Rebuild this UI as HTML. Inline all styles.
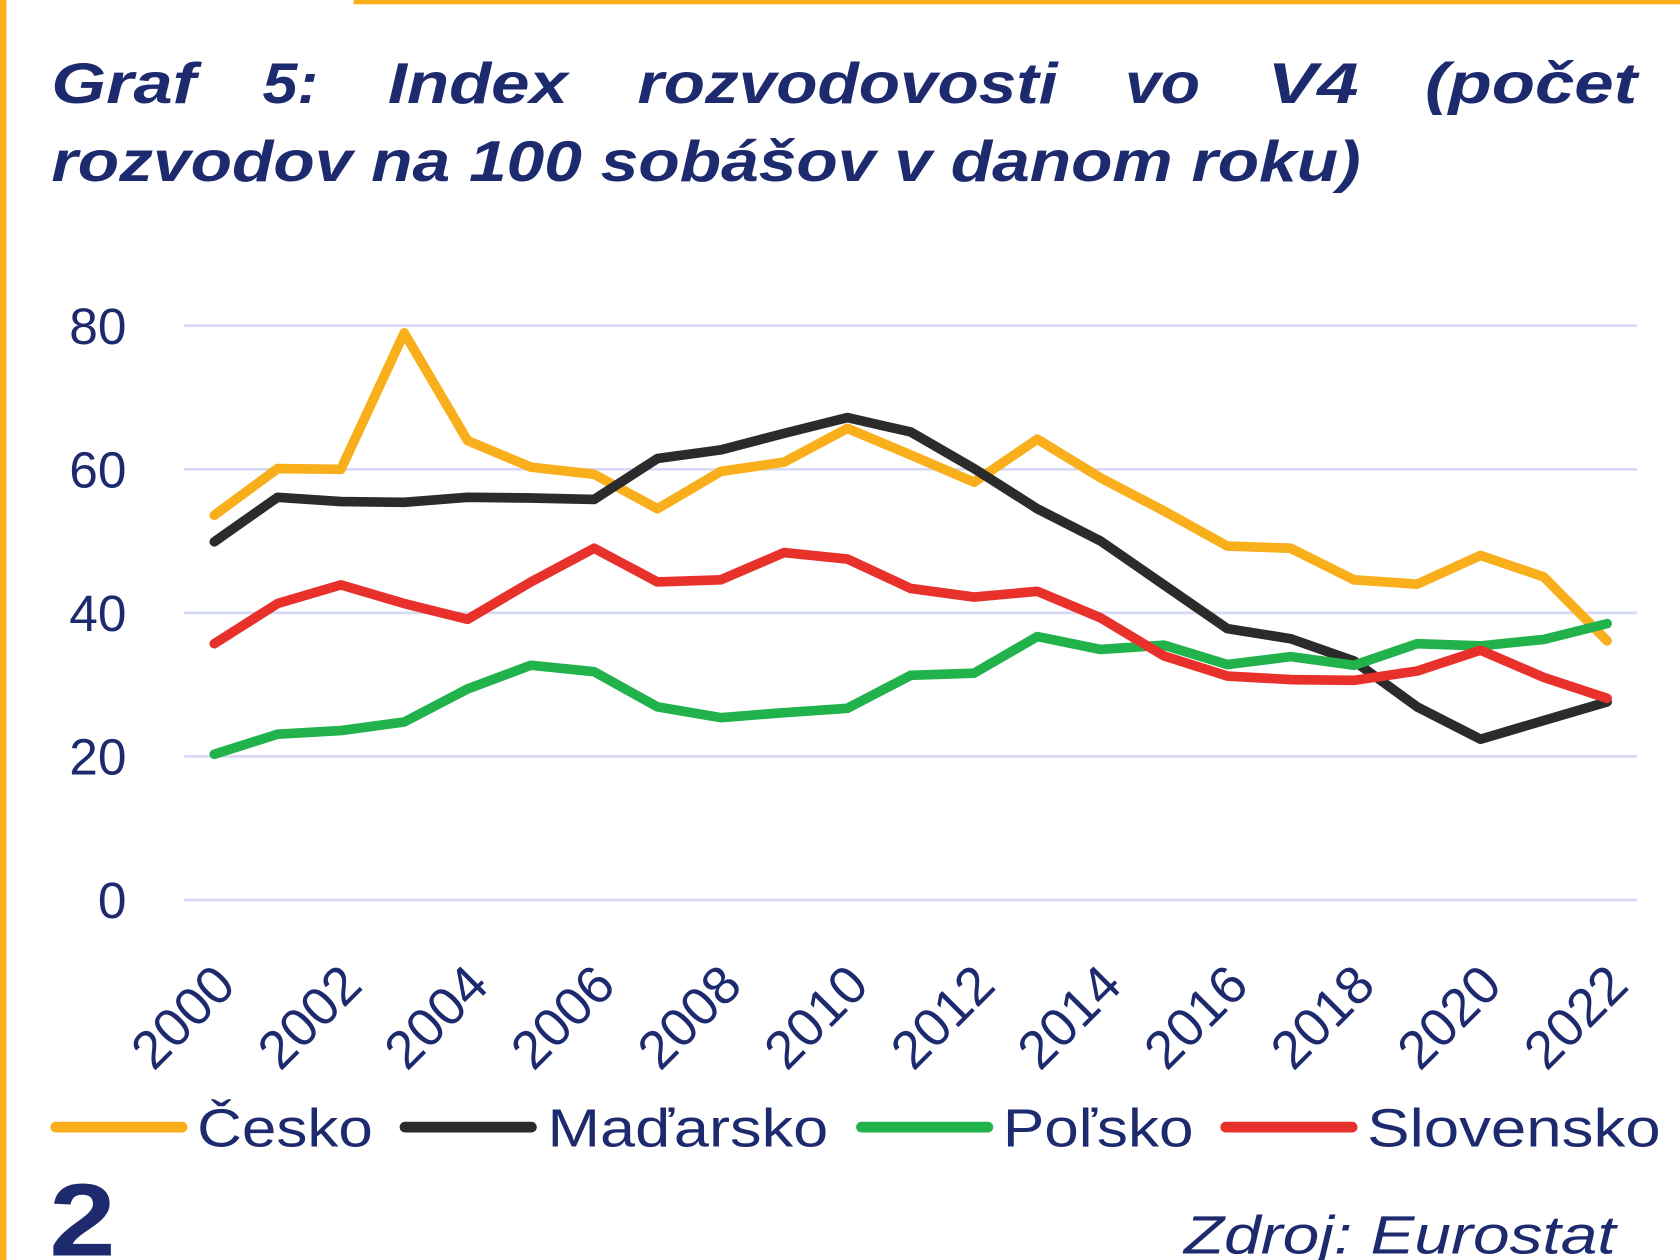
<!DOCTYPE html>
<html><head><meta charset="utf-8"><style>
html,body{margin:0;padding:0;background:#fff;}
svg{display:block;font-family:"Liberation Sans",sans-serif;}
</style></head><body>
<svg id="chart" width="1680" height="1260" viewBox="0 0 1568 1176" xmlns="http://www.w3.org/2000/svg">
<rect x="0" y="0" width="6" height="1176" fill="#f9ae1b"/>
<rect x="330" y="0" width="1238" height="4" fill="#f9ae1b"/>
<g fill="#1e2a6e" font-weight="bold" font-style="italic" font-size="54">
<text y="96"><tspan x="48" textLength="135" lengthAdjust="spacingAndGlyphs">Graf</tspan><tspan x="245" textLength="52" lengthAdjust="spacingAndGlyphs">5:</tspan><tspan x="362" textLength="168" lengthAdjust="spacingAndGlyphs">Index</tspan><tspan x="595" textLength="392" lengthAdjust="spacingAndGlyphs">rozvodovosti</tspan><tspan x="1050" textLength="70" lengthAdjust="spacingAndGlyphs">vo</tspan><tspan x="1183" textLength="85" lengthAdjust="spacingAndGlyphs">V4</tspan><tspan x="1330" textLength="198" lengthAdjust="spacingAndGlyphs">(počet</tspan></text>
<text x="48" y="169" textLength="1222" lengthAdjust="spacingAndGlyphs">rozvodov na 100 sobášov v danom roku)</text>
</g>
<g id="grid"></g>
<g id="yticks" fill="#1e2a6e" font-size="48" text-anchor="end"></g>
<g id="xticks" fill="#1e2a6e" font-size="50" text-anchor="end"></g>
<g id="lines" fill="none" stroke-width="9" stroke-linejoin="round" stroke-linecap="round"></g>
<g font-size="50" fill="#1e2a6e">
<line x1="52" y1="1052" x2="170" y2="1052" stroke="#f9ae1b" stroke-width="10" stroke-linecap="round"/>
<text x="184" y="1070" textLength="164" lengthAdjust="spacingAndGlyphs">Česko</text>
<line x1="378" y1="1052" x2="496" y2="1052" stroke="#2b2b2b" stroke-width="10" stroke-linecap="round"/>
<text x="511" y="1070" textLength="262" lengthAdjust="spacingAndGlyphs">Maďarsko</text>
<line x1="804" y1="1052" x2="922" y2="1052" stroke="#22b24c" stroke-width="10" stroke-linecap="round"/>
<text x="936" y="1070" textLength="178" lengthAdjust="spacingAndGlyphs">Poľsko</text>
<line x1="1144" y1="1052" x2="1262" y2="1052" stroke="#e8312b" stroke-width="10" stroke-linecap="round"/>
<text x="1276" y="1070" textLength="274" lengthAdjust="spacingAndGlyphs">Slovensko</text>
</g>
<text x="46" y="1172" font-size="96" font-weight="bold" fill="#1e2a6e" textLength="62" lengthAdjust="spacingAndGlyphs">2</text>
<text x="1105" y="1170" font-size="50" font-style="italic" fill="#1e2a6e" textLength="403" lengthAdjust="spacingAndGlyphs">Zdroj: Eurostat</text>
</svg>
<script>
const years = [2000,2001,2002,2003,2004,2005,2006,2007,2008,2009,2010,2011,2012,2013,2014,2015,2016,2017,2018,2019,2020,2021,2022];
const yTicks = [0,20,40,60,80];
const xTickLabels = [2000,2002,2004,2006,2008,2010,2012,2014,2016,2018,2020,2022];
const cesko = [53.6,60.1,60,79,64,60.3,59.3,54.5,59.7,61,65.7,62,58.2,64.2,58.8,54.2,49.3,49,44.6,44,48,45,36.1];
const madarsko = [49.9,56.1,55.5,55.4,56.1,56,55.8,61.5,62.7,65,67.2,65.2,60.1,54.5,50,43.9,37.8,36.4,33.3,26.9,22.4,25,27.6];
const polsko = [20.3,23.1,23.6,24.8,29.4,32.7,31.8,26.9,25.4,26.1,26.7,31.3,31.6,36.7,34.9,35.5,32.8,33.9,32.7,35.7,35.4,36.3,38.5];
const slovensko = [35.7,41.3,43.9,41.3,39.1,44.3,49,44.3,44.6,48.4,47.5,43.4,42.2,43,39.3,34,31.2,30.7,30.6,31.9,34.8,31,28.1];

const NS = "http://www.w3.org/2000/svg";
const x = yr => 200 + (yr - 2000) * (1300 / 22);
const y = v => 840 - v * 6.7;

const grid = document.getElementById('grid');
const yt = document.getElementById('yticks');
yTicks.forEach(v => {
  const l = document.createElementNS(NS,'line');
  l.setAttribute('x1',172); l.setAttribute('x2',1528);
  l.setAttribute('y1',y(v)); l.setAttribute('y2',y(v));
  l.setAttribute('stroke','#d6d9f5'); l.setAttribute('stroke-width','2.5');
  
  
  grid.appendChild(l);
  const t = document.createElementNS(NS,'text');
  t.setAttribute('x',118); t.setAttribute('y',y(v)+17);
  t.textContent = v;
  
  
  yt.appendChild(t);
});
const xt = document.getElementById('xticks');
xTickLabels.forEach(yr => {
  const t = document.createElementNS(NS,'text');
  const px = x(yr)+22, py = 922;
  t.setAttribute('x',px); t.setAttribute('y',py);
  t.setAttribute('transform','rotate(-45 '+px+' '+py+')');
  t.textContent = yr;
  
  
  xt.appendChild(t);
});
const lines = document.getElementById('lines');
[[cesko,'#f9ae1b','line-cesko'],[madarsko,'#2b2b2b','line-madarsko'],[polsko,'#22b24c','line-polsko'],[slovensko,'#e8312b','line-slovensko']].forEach(s => {
  const p = document.createElementNS(NS,'polyline');
  p.setAttribute('points', s[0].map((v,i)=>x(years[i])+','+y(v)).join(' '));
  p.setAttribute('stroke', s[1]);
  
  
  lines.appendChild(p);
});
</script>
</body></html>
